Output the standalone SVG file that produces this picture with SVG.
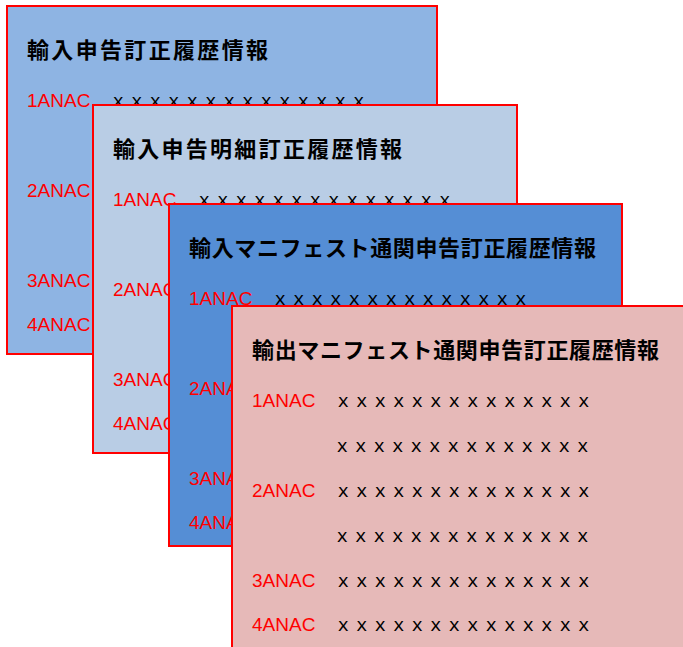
<svg xmlns="http://www.w3.org/2000/svg" width="683" height="647" viewBox="0 0 683 647">
<style>
.box{stroke:#FF0000;stroke-width:2}
.t{font-family:"Noto Sans CJK JP","Noto Sans CJK SC",sans-serif;font-weight:bold;font-size:22px;fill:#000}
.l{font-family:"Liberation Sans",Arial,sans-serif;font-size:19px;fill:#FF0000}
.x{font-family:"Noto Sans CJK JP","Noto Sans CJK SC",sans-serif;font-size:18.5px;fill:#000}
</style>
<rect width="683" height="647" fill="#FFFFFF"/>
<g id="node1" transform="translate(7,6)">
<rect class="box" x="0" y="0" width="430" height="348" fill="#8EB4E3"/>
<text class="t" x="20" y="52" textLength="241" lengthAdjust="spacing">輸入申告訂正履歴情報</text>
<text class="l" x="20" y="101">1ANAC</text>
<text class="x" x="102" y="101" textLength="259" lengthAdjust="spacing">ｘｘｘｘｘｘｘｘｘｘｘｘｘｘ</text>
<text class="l" x="20" y="191">2ANAC</text>
<text class="l" x="20" y="281">3ANAC</text>
<text class="l" x="20" y="325">4ANAC</text>
</g>
<g id="node2" transform="translate(93,105)">
<rect class="box" x="0" y="0" width="424" height="348" fill="#B9CDE5"/>
<text class="t" x="20" y="52" textLength="289" lengthAdjust="spacing">輸入申告明細訂正履歴情報</text>
<text class="l" x="20" y="101">1ANAC</text>
<text class="x" x="102" y="101" textLength="259" lengthAdjust="spacing">ｘｘｘｘｘｘｘｘｘｘｘｘｘｘ</text>
<text class="l" x="20" y="191">2ANAC</text>
<text class="l" x="20" y="281">3ANAC</text>
<text class="l" x="20" y="325">4ANAC</text>
</g>
<g id="node3" transform="translate(169,204)">
<rect class="box" x="0" y="0" width="453" height="342" fill="#558ED5"/>
<text class="t" x="20" y="52" textLength="407" lengthAdjust="spacing">輸入マニフェスト通関申告訂正履歴情報</text>
<text class="l" x="20" y="101">1ANAC</text>
<text class="x" x="102" y="101" textLength="259" lengthAdjust="spacing">ｘｘｘｘｘｘｘｘｘｘｘｘｘｘ</text>
<text class="l" x="20" y="191">2ANAC</text>
<text class="l" x="20" y="281">3ANAC</text>
<text class="l" x="20" y="325">4ANAC</text>
</g>
<g id="node4" transform="translate(232,306)">
<rect class="box" x="0" y="0" width="460" height="350" fill="#E6B9B8"/>
<text class="t" x="20" y="52" textLength="407" lengthAdjust="spacing">輸出マニフェスト通関申告訂正履歴情報</text>
<text class="l" x="20" y="101">1ANAC</text>
<text class="x" x="102" y="101" textLength="259" lengthAdjust="spacing">ｘｘｘｘｘｘｘｘｘｘｘｘｘｘ</text>
<text class="x" x="101" y="146" textLength="259" lengthAdjust="spacing">ｘｘｘｘｘｘｘｘｘｘｘｘｘｘ</text>
<text class="l" x="20" y="191">2ANAC</text>
<text class="x" x="102" y="191" textLength="259" lengthAdjust="spacing">ｘｘｘｘｘｘｘｘｘｘｘｘｘｘ</text>
<text class="x" x="101" y="236" textLength="259" lengthAdjust="spacing">ｘｘｘｘｘｘｘｘｘｘｘｘｘｘ</text>
<text class="l" x="20" y="281">3ANAC</text>
<text class="x" x="102" y="281" textLength="259" lengthAdjust="spacing">ｘｘｘｘｘｘｘｘｘｘｘｘｘｘ</text>
<text class="l" x="20" y="325">4ANAC</text>
<text class="x" x="102" y="325" textLength="259" lengthAdjust="spacing">ｘｘｘｘｘｘｘｘｘｘｘｘｘｘ</text>
</g>
</svg>
